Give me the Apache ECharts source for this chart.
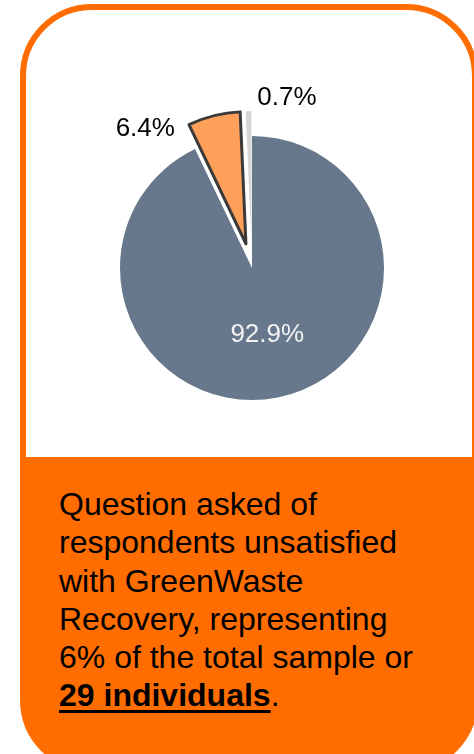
<!DOCTYPE html>
<html>
<head>
<meta charset="utf-8">
<script src="https://cdn.jsdelivr.net/npm/echarts@6/dist/echarts.min.js"></script>
<style>
  html, body { margin: 0; padding: 0; background: #fff; overflow: hidden; }
  body { width: 474px; height: 754px; position: relative; font-family: 'Liberation Sans', Arial, sans-serif; }
  #card {
    position: absolute; left: 20px; top: 4px; width: 458px; height: 768px;
    box-sizing: border-box; border: 6px solid #ff6d00; border-radius: 72px;
    background: linear-gradient(#fff 0, #fff 447px, #ff6d00 447px, #ff6d00 100%);
  }
  #note {
    position: absolute; left: 59px; top: 485px; margin: 0;
    font-size: 32px; line-height: 38.3px; color: #000; white-space: nowrap;
  }
  #note u { text-decoration-thickness: 3px; text-underline-offset: 4px; }
  #chart0 { position: absolute; left: 0; top: 0; width: 474px; height: 754px; }
</style>
</head>
<body>
<div id="card"></div>
<p id="note">Question asked of<br>respondents unsatisfied<br>with GreenWaste<br>Recovery, representing<br>6% of the total sample or<br><b><u>29 individuals</u></b>.</p>
<div id="chart0"></div>
<script>
// share of answers (%), clockwise from 12 o'clock
var names = ['Answer A', 'Answer B', 'Answer C']
var values = [92.9, 6.4, 0.7]
var colors = ['#67788c', '#ffa05a', '#d6d6d6']

// nudges for the two outside labels (dataIndex -> [dx, dy])
var labelNudge = { 1: [-34, 13], 2: [73, -13] }

;(function () {
  var chart0 = echarts.init(document.getElementById('chart0'), null, { renderer: 'canvas' })

  var data = values.map(function (v, i) {
    var item = {
      name: names[i],
      value: v,
      itemStyle: { color: colors[i] }
    }
    if (i === 0) {
      item.label = { position: 'inside', color: '#f2f2f2' }
    } else {
      item.selected = true
    }
    if (i === 1) {
      item.itemStyle.borderColor = '#3a3a3a'
      item.itemStyle.borderWidth = 3
    }
    return item
  })

  var option0 = {
    animation: false,
    series: [{
      name: 'Answers',
      type: 'pie',
      center: [252, 268],
      radius: [0, 132],
      startAngle: 90,
      clockwise: true,
      selectedMode: 'multiple',
      selectedOffset: 25,
      avoidLabelOverlap: false,
      silent: true,
      label: {
        show: true,
        position: 'outside',
        fontFamily: "'Liberation Sans', Arial, sans-serif",
        fontSize: 26,
        color: '#000',
        formatter: function (p) { return p.value.toFixed(1) + '%' }
      },
      labelLine: { show: false, length: 0, length2: 0 },
      labelLayout: function (p) {
        var n = labelNudge[p.dataIndex]
        return n ? { dx: n[0], dy: n[1] } : {}
      },
      data: data
    }]
  }

  chart0.setOption(option0)
})()
</script>
</body>
</html>
